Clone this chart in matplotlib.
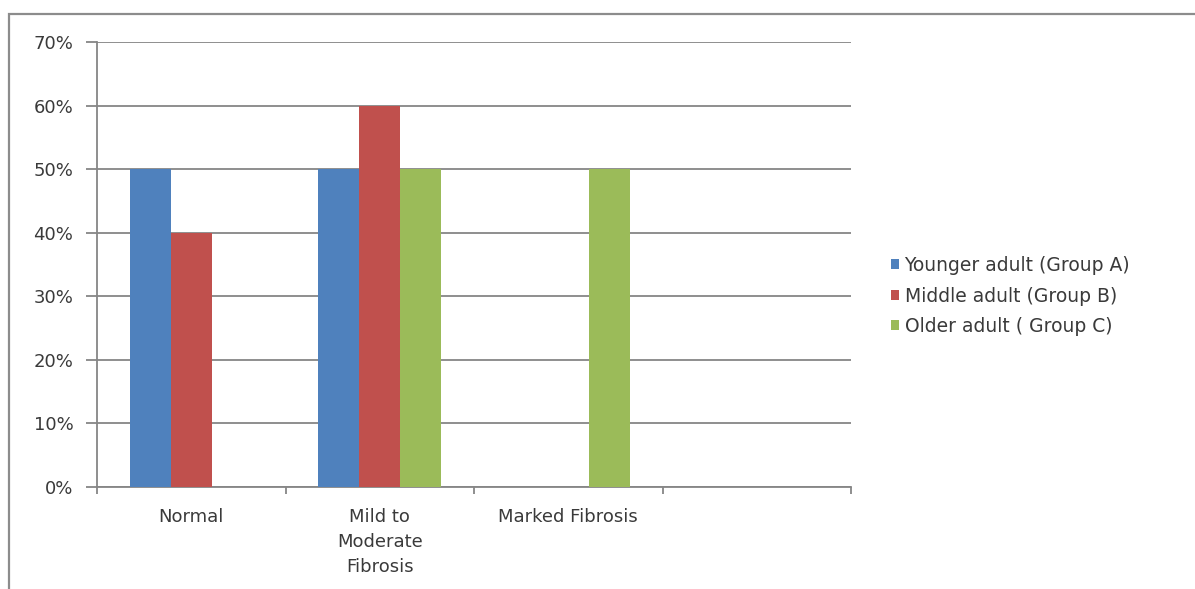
import matplotlib
matplotlib.use("Agg")
import matplotlib.pyplot as plt
import numpy as np
from matplotlib.patches import Rectangle
from matplotlib.ticker import FixedLocator, PercentFormatter

# Data: share of subjects per fibrosis grade (%)
categories = ["Normal", "Mild to\nModerate\nFibrosis", "Marked Fibrosis", ""]
series_names = ["Younger adult (Group A)", "Middle adult (Group B)", "Older adult ( Group C)"]
younger = [50, 50, 0, 0]
middle = [40, 60, 0, 0]
older = [0, 50, 50, 0]
y_ticks = [0, 10, 20, 30, 40, 50, 60, 70]

colors = ["#4F81BD", "#C0504D", "#9BBB59"]
grid_color = "#868686"
text_color = "#3a3a3a"
font = "DejaVu Sans"
fsize = 13

fig = plt.figure(figsize=(11.95, 5.89), dpi=100)
W, H = 1195, 589

# outer chart frame
fig.patches.append(Rectangle((8.5 / W, -0.01), 1.2, 1 - 13.5 / H + 0.01,
                             transform=fig.transFigure, fill=False,
                             edgecolor="#8c8c8c", linewidth=1.6))

ax = fig.add_axes([97 / W, 1 - 487 / H, (851 - 97) / W, (487 - 42) / H])

x = np.arange(len(categories))
bw = 0.218
for i, (vals, name, col) in enumerate(zip([younger, middle, older], series_names, colors)):
    ax.bar(x + (i - 1) * bw, vals, width=bw, color=col, label=name, zorder=3)

ax.set_xlim(-0.5, len(categories) - 0.5)
ax.set_ylim(0, 70)

ax.yaxis.set_major_locator(FixedLocator(y_ticks))
ax.yaxis.set_major_formatter(PercentFormatter(decimals=0))
ax.grid(axis="y", color=grid_color, linewidth=1.3, zorder=0)
ax.set_axisbelow(True)

ax.set_xticks(x)
ax.set_xticklabels(categories, fontsize=fsize, family=font, color=text_color,
                   va="top")
for lab in ax.get_xticklabels():
    lab.set_linespacing(1.5)
ax.xaxis.set_minor_locator(FixedLocator(np.arange(-0.5, len(categories), 1.0)))
ax.tick_params(axis="x", which="major", length=0, pad=15)
ax.tick_params(axis="x", which="minor", length=5, color=grid_color, width=1.3)
ax.tick_params(axis="y", length=8, color=grid_color, width=1.3, pad=9,
               labelsize=fsize, labelcolor=text_color)
for lab in ax.get_yticklabels():
    lab.set_family(font)

for s in ["top", "right"]:
    ax.spines[s].set_visible(False)
for s in ["left", "bottom"]:
    ax.spines[s].set_color(grid_color)
    ax.spines[s].set_linewidth(1.3)

leg = fig.legend(loc="center left", bbox_to_anchor=(883 / W, 1 - 296 / H),
                 frameon=False, prop={"family": font, "size": 13.5},
                 handlelength=0.45, handleheight=0.45, handletextpad=0.3,
                 labelspacing=0.62, borderaxespad=0)
for t in leg.get_texts():
    t.set_color(text_color)

fig.savefig("out.png", dpi=100, facecolor="white")
